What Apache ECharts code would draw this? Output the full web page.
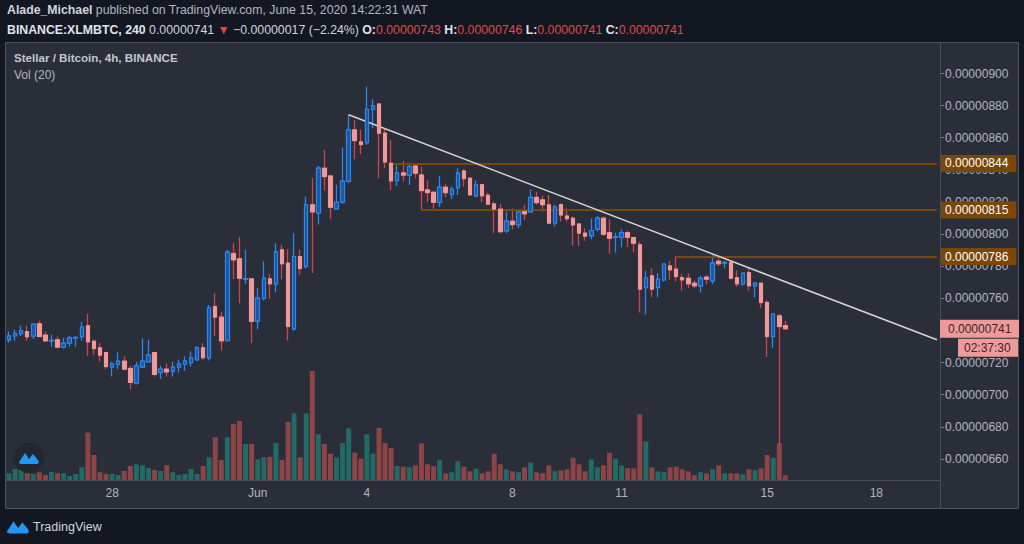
<!DOCTYPE html>
<html>
<head>
<meta charset="utf-8">
<title>Stellar / Bitcoin, 4h, BINANCE</title>
<script src="https://cdn.jsdelivr.net/npm/echarts@6/dist/echarts.min.js"></script>
<style>
html, body { margin: 0; padding: 0; background: #131722; }
#chart { width: 1024px; height: 544px; }
</style>
</head>
<body>
<div id="chart"></div>
<script>
// prices are kept in satoshi (1e-8 BTC), labels are formatted back to BTC
const firstBar = '2020-05-25T04:00:00Z'
const barCount = 154 // 129 candles + empty space on the right

const opens = [734.2, 736.6, 737.9, 739.3, 736.6, 744.1, 737.1, 733.5, 734.2, 729.6,
  732.1, 735.4, 736.2, 742.9, 733.3, 729.2, 726.2, 717.2, 718.8, 720.9,
  716.3, 707.2, 717.2, 720.5, 726.2, 713.8, 715.9, 714.7, 717.2, 718.8,
  720.0, 721.7, 729.2, 723.0, 754.9, 748.3, 733.7, 787.9, 784.6, 771.9,
  772.1, 745.8, 759.9, 772.1, 769.0, 790.2, 781.9, 740.8, 786.0, 779.8,
  818.2, 813.0, 841.0, 836.2, 815.7, 820.0, 832.9, 864.9, 857.4, 856.9,
  877.7, 881.0, 862.8, 844.1, 833.3, 838.1, 836.7, 842.4, 836.8, 827.5,
  826.1, 819.8, 829.2, 824.6, 828.9, 839.3, 834.8, 823.8, 830.8, 824.2,
  818.8, 815.5, 802.0, 808.0, 805.7, 814.2, 813.8, 822.9, 821.3, 818.2,
  806.8, 818.4, 811.3, 809.9, 806.3, 800.6, 798.9, 803.0, 809.9, 800.9,
  797.9, 797.9, 800.9, 797.8, 793.3, 766.7, 774.0, 766.7, 771.5, 780.2,
  778.2, 772.9, 772.5, 769.4, 767.8, 773.2, 770.9, 783.1, 781.9, 782.3,
  772.9, 769.0, 776.0, 767.8, 769.4, 757.4, 736.2, 749.1, 743]
const highs = [739.3, 740.4, 742.9, 742.9, 744.1, 746.0, 739.3, 737.3, 736.2, 735.4,
  736.6, 736.6, 745.4, 750.3, 734.2, 732.1, 726.7, 720.5, 726.2, 723.8,
  718.0, 720.5, 735.0, 734.2, 726.7, 718.0, 719.2, 720.5, 721.7, 723.8,
  727.1, 730.4, 732.1, 755.9, 763.2, 751.4, 790.2, 794.3, 798.1, 790.2,
  772.3, 766.3, 782.9, 775.2, 794.3, 793.3, 790.6, 800.5, 790.2, 823.3,
  835.0, 842.4, 852.4, 836.5, 830.8, 854.1, 874.6, 871.1, 864.9, 891.8,
  883.9, 881.0, 865.9, 858.6, 844.1, 845.4, 844.1, 844.1, 842.0, 833.3,
  826.1, 836.2, 831.0, 829.6, 841.0, 840.4, 835.4, 833.3, 831.0, 825.8,
  820.2, 818.8, 814.0, 816.1, 814.0, 818.2, 827.9, 826.4, 823.8, 824.4,
  818.2, 819.2, 816.1, 810.9, 806.3, 803.7, 809.9, 811.3, 810.9, 809.3,
  800.9, 803.0, 802.2, 798.4, 795.3, 777.1, 778.8, 775.7, 781.9, 783.3,
  786.0, 775.2, 775.6, 771.1, 774.0, 774.6, 787.1, 786.4, 783.3, 783.5,
  777.3, 776.0, 778.8, 769.4, 769.8, 759.0, 750.8, 750.4, 746]
const lows = [732.3, 733.5, 736.6, 733.5, 734.8, 736.0, 732.9, 729.8, 728.7, 728.7,
  729.8, 729.8, 733.7, 724.2, 724.8, 720.5, 715.9, 711.3, 715.9, 715.5,
  703.5, 706.3, 717.2, 720.0, 711.3, 709.7, 711.3, 711.3, 713.8, 714.7,
  717.5, 721.1, 721.7, 721.3, 736.6, 727.5, 733.3, 771.9, 757.0, 769.0,
  732.1, 740.8, 758.6, 759.7, 763.8, 771.9, 733.7, 739.9, 774.8, 778.5,
  775.7, 805.9, 827.1, 809.6, 815.5, 818.8, 831.7, 846.6, 849.9, 855.7,
  865.9, 834.8, 841.0, 827.5, 830.0, 832.7, 830.6, 834.8, 815.1, 820.2,
  815.5, 817.1, 822.9, 821.7, 824.4, 829.6, 823.8, 822.9, 820.0, 818.2,
  800.5, 800.5, 800.5, 803.0, 803.7, 808.8, 813.8, 818.2, 814.0, 806.8,
  804.7, 807.8, 807.8, 792.8, 792.6, 795.8, 796.8, 801.6, 798.9, 787.7,
  788.5, 791.8, 791.8, 788.5, 751.1, 749.7, 760.7, 760.7, 770.4, 771.5,
  770.4, 764.8, 766.3, 766.3, 763.6, 768.8, 768.8, 779.8, 778.8, 771.9,
  767.3, 767.8, 764.8, 760.7, 753.9, 723.4, 729.0, 668.8, 741]
const closes = [736.6, 738.1, 739.9, 736.0, 743.9, 736.2, 733.5, 733.8, 729.6, 732.1,
  735.4, 735.6, 742.1, 732.9, 728.7, 724.6, 717.5, 719.2, 720.9, 715.9,
  707.6, 718.0, 720.9, 724.6, 712.6, 715.9, 714.2, 717.2, 719.2, 720.9,
  722.9, 729.2, 723.0, 754.1, 748.3, 733.5, 788.7, 783.9, 772.5, 772.2,
  745.6, 760.1, 772.5, 769.0, 788.9, 781.5, 742.4, 786.0, 778.5, 818.2,
  813.8, 841.0, 835.8, 816.7, 819.8, 832.9, 864.9, 858.2, 855.7, 877.7,
  879.8, 862.8, 844.9, 833.1, 837.9, 836.7, 842.0, 837.9, 827.1, 825.8,
  819.8, 829.2, 825.8, 827.9, 837.9, 834.5, 824.4, 830.6, 823.8, 818.6,
  815.5, 801.5, 808.0, 805.9, 813.8, 812.6, 822.9, 819.6, 818.3, 806.8,
  817.1, 811.9, 809.6, 805.7, 800.6, 798.7, 802.2, 809.9, 799.9, 797.4,
  798.2, 800.9, 798.0, 794.3, 765.7, 772.6, 765.7, 771.9, 781.3, 777.7,
  773.6, 771.5, 769.0, 767.8, 772.5, 771.9, 781.9, 781.5, 782.3, 772.5,
  769.0, 775.7, 767.8, 769.4, 757.4, 736.2, 750.2, 742.4, 741]
// Vol (20) panel, relative units
const volumes = [6.7, 11, 10, 6.7, 6, 7.7, 5, 8, 6.7, 6.7,
  4, 6, 12.7, 47.3, 25, 7.7, 6, 6, 5, 9,
  14, 15.7, 14.7, 12, 10, 9, 14.7, 7.7, 5, 6,
  11, 6, 14, 22.7, 42.7, 20, 42.7, 56, 59, 36,
  36, 20.7, 22.7, 23.3, 37, 20, 58, 66.7, 22.7, 66.7,
  109, 45.7, 36, 26.3, 22.7, 37, 51.7, 27.3, 21.3, 45.7,
  26.3, 52.3, 37, 32, 14, 13.3, 12.7, 14.7, 36.7, 15.7,
  13.7, 19.7, 6.7, 7.7, 18.7, 13.3, 8.7, 11.3, 6.7, 8.7,
  26.3, 15.7, 10.7, 8.7, 7.7, 12.7, 17.3, 7.7, 6.7, 14.7,
  8.7, 9.7, 10.7, 22.3, 15.7, 8.7, 20.7, 12.7, 14.7, 27.3,
  21.3, 14.7, 11.7, 11.7, 65.7, 38.7, 12.7, 8.7, 7.7, 12.7,
  13.3, 10.7, 8.7, 4.7, 7.7, 6.7, 10.7, 14.7, 6.7, 6.7,
  6.7, 5.7, 10.7, 9.7, 11.7, 25, 22.3, 36.7, 4.7]

const tickDates = ['2020-05-28', '2020-06-01', '2020-06-04', '2020-06-08', '2020-06-11', '2020-06-15', '2020-06-18']
const tickLabels = ['28', 'Jun', '4', '8', '11', '15', '18']

const priceMin = 640
const priceMax = 920
const priceStep = 20

// horizontal levels and their start bars
const levelPrices = [844, 815, 786]
const levelFrom = ['2020-06-04 16:00', '2020-06-05 12:00', '2020-06-12 12:00']
// descending trendline
const trendFrom = ['2020-06-03 12:00', 874.3]
const trendTo = ['2020-06-19 16:00', 734.2]

const countdown = '02:37:30'

const upColor = '#1d5aa6'
const upBorder = '#2b87ee'
const downColor = '#ef9a9a'
const downWick = '#d0454a'
const volUp = '#226a66'
const volDown = '#8c4446'
const levelColor = '#7b4709'
const textColor = '#b2b5be'
const lineColor = '#4a4e59'
const font = 'Liberation Sans, Arial, sans-serif'

const categories = []
const t0 = Date.parse(firstBar)
for (let i = 0; i < barCount; i++) {
  const d = new Date(t0 + i * 4 * 3600e3)
  categories.push(d.toISOString().slice(0, 16).replace('T', ' '))
}
const fmt = v => (v * 1e-8).toFixed(8)
const isTick = (i, v) => v.endsWith('00:00') && tickDates.indexOf(v.slice(0, 10)) >= 0
const lastClose = closes[closes.length - 1]

const candles = opens.map((o, i) => [o, closes[i], lows[i], highs[i]])
const bodies = opens.map((o, i) => [o, closes[i], Math.min(o, closes[i]), Math.max(o, closes[i])])
const volData = volumes.map((v, i) => ({
  value: v,
  itemStyle: { color: closes[i] >= opens[i] ? volUp : volDown }
}))

const lastCat = categories[barCount - 1]
const markData = levelPrices.map((p, i) => [
  { coord: [levelFrom[i], p], value: p },
  { coord: [lastCat, p], value: p }
])
markData.push([
  { coord: trendFrom, lineStyle: { color: '#d4d4d4', width: 1.5 }, label: { show: false } },
  { coord: trendTo }
])

// small TradingView cloud mark, as polygon points
const logoPts = (x, y, s) => [[0, 12], [6, 3], [10, 9], [14, 4], [19, 10], [20, 13], [18, 14], [2, 14], [0, 13]]
  .map(p => [x + p[0] * s, y + p[1] * s])

const hFont = { fontFamily: font, fontSize: 12.3 }

const chart = echarts.init(document.getElementById('chart'), null, { renderer: 'svg' })

const option = {
  animation: false,
  backgroundColor: '#131722',
  textStyle: { fontFamily: font },
  grid: [
    { left: 6, right: 84, top: 41.4, bottom: 53 },
    { left: 6, right: 84, top: 360, bottom: 64 }
  ],
  xAxis: [
    { type: 'category', gridIndex: 0, data: categories, show: false },
    {
      type: 'category', gridIndex: 1, data: categories,
      axisLine: { lineStyle: { color: lineColor, width: 1 } },
      axisTick: { interval: isTick, alignWithLabel: true, length: 3, lineStyle: { color: '#787b86' } },
      axisLabel: {
        interval: isTick, color: textColor, fontSize: 12, margin: 7,
        formatter: v => tickLabels[tickDates.indexOf(v.slice(0, 10))]
      },
      splitLine: { show: false }
    }
  ],
  yAxis: [
    {
      type: 'value', gridIndex: 0, position: 'right',
      min: priceMin, max: priceMax, interval: priceStep,
      axisLine: { show: false },
      axisTick: { show: true, length: 4, lineStyle: { color: '#787b86' } },
      axisLabel: {
        color: textColor, fontSize: 12, margin: 5, showMinLabel: false, showMaxLabel: false,
        // the label under the last price tag is fully covered there
        formatter: v => Math.abs(v - lastClose) < 5 ? '' : fmt(v)
      },
      splitLine: { show: false }
    },
    { type: 'value', gridIndex: 1, min: 0, max: 120, show: false, splitLine: { show: false } }
  ],
  series: [
    {
      name: 'Vol (20)', type: 'bar', xAxisIndex: 1, yAxisIndex: 1,
      data: volData, barCategoryGap: '18%', z: 1
    },
    {
      name: 'wicks', type: 'candlestick', xAxisIndex: 0, yAxisIndex: 0,
      data: candles, barWidth: 4, z: 3,
      itemStyle: { color: upColor, color0: downColor, borderColor: upBorder, borderColor0: downWick, borderWidth: 1.3 },
      markLine: {
        symbol: 'none', silent: true, z: 4,
        lineStyle: { color: levelColor, width: 2, type: 'solid' },
        label: {
          show: true, position: 'end', distance: 3,
          formatter: p => fmt(p.value),
          backgroundColor: levelColor, color: '#ffffff', fontSize: 12, fontFamily: font,
          padding: [3, 8, 2, 5]
        },
        data: markData
      }
    },
    {
      name: 'Stellar / Bitcoin', type: 'candlestick', xAxisIndex: 0, yAxisIndex: 0,
      data: bodies, barWidth: 4, z: 5,
      itemStyle: { color: upColor, color0: downColor, borderColor: upBorder, borderColor0: downColor, borderWidth: 1 }
    }
  ],
  graphic: [
    { id: 'panel', type: 'rect', z: -10, silent: true, shape: { x: 5.5, y: 42.5, width: 1013, height: 466 }, style: { fill: '#2a2e39', stroke: '#50535e', lineWidth: 1 } },
    { id: 'sep', type: 'line', z: 10, silent: true, shape: { x1: 940.5, y1: 42.5, x2: 940.5, y2: 508.5 }, style: { stroke: lineColor, lineWidth: 1 } },
    {
      id: 'h1', type: 'text', x: 7, y: 10, z: 10,
      style: Object.assign({
        text: '{b|Alade_Michael} published on TradingView.com, June 15, 2020 14:22:31 WAT',
        fill: '#b2b5be', verticalAlign: 'middle',
        rich: { b: Object.assign({ fontWeight: 'bold', fill: '#d1d4dc' }, hFont) }
      }, hFont)
    },
    {
      id: 'h2', type: 'text', x: 7, y: 30, z: 10,
      style: Object.assign({
        text: '{b|BINANCE:XLMBTC, 240} 0.00000741 {r|▼} −0.00000017 (−2.24%) {b|O:}{r|0.00000743} {b|H:}{r|0.00000746} {b|L:}{r|0.00000741} {b|C:}{r|0.00000741}',
        fill: '#d1d4dc', verticalAlign: 'middle',
        rich: {
          b: Object.assign({ fontWeight: 'bold', fill: '#e0e3eb' }, hFont),
          r: Object.assign({ fill: '#e04848' }, hFont)
        }
      }, hFont)
    },
    { id: 't1', type: 'text', x: 14, y: 57, z: 10, style: { text: 'Stellar / Bitcoin, 4h, BINANCE', fontFamily: font, fontSize: 11.6, fontWeight: 'bold', fill: '#c3c6ce', verticalAlign: 'middle' } },
    { id: 't2', type: 'text', x: 14, y: 75, z: 10, style: { text: 'Vol (20)', fontFamily: font, fontSize: 12, fill: '#b2b5be', verticalAlign: 'middle' } },
    { id: 'logoC', type: 'circle', z: 8, silent: true, shape: { cx: 29, cy: 458, r: 15 }, style: { fill: '#22262f' } },
    { id: 'logoP', type: 'polygon', z: 9, silent: true, shape: { points: logoPts(19, 450, 1) }, style: { fill: '#2196f3' } },
    { id: 'brandP', type: 'polygon', z: 9, silent: true, shape: { points: logoPts(7, 518, 1.1) }, style: { fill: '#2196f3' } },
    { id: 'brandT', type: 'text', x: 33, y: 527, z: 10, style: { text: 'TradingView', fontFamily: font, fontSize: 12.5, fill: '#d1d4dc', verticalAlign: 'middle' } }
  ]
}

chart.setOption(option)

// last price tag and bar countdown, placed at the last close
const yLast = chart.convertToPixel({ xAxisIndex: 0, yAxisIndex: 0 }, [categories[0], lastClose])[1]
chart.setOption({
  graphic: [
    { id: 'lastR', type: 'rect', z: 20, shape: { x: 940, y: yLast - 9, width: 79, height: 18 }, style: { fill: downColor } },
    { id: 'lastT', type: 'text', z: 21, x: 948, y: yLast, style: { text: fmt(lastClose), fontFamily: font, fontSize: 12, fill: '#3d2626', verticalAlign: 'middle' } },
    { id: 'cdR', type: 'rect', z: 20, shape: { x: 958, y: yLast + 10, width: 60, height: 18 }, style: { fill: downColor } },
    { id: 'cdT', type: 'text', z: 21, x: 964, y: yLast + 19, style: { text: countdown, fontFamily: font, fontSize: 12, fill: '#3d2626', verticalAlign: 'middle' } }
  ]
})
</script>
</body>
</html>
